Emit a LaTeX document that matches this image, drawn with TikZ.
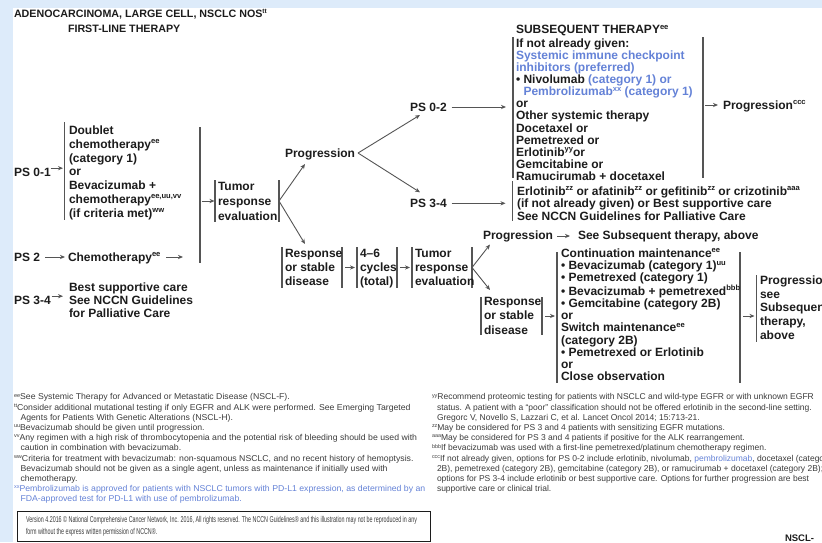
\documentclass[tikz,border=0pt]{standalone}
\usepackage{fontspec}
\setmainfont{Liberation Sans}
\newfontfamily\footf[FakeStretch=0.63]{Liberation Sans}
\newfontfamily\wfoot[FakeStretch=1.025]{Liberation Sans}
\usetikzlibrary{arrows.meta,fit}
\definecolor{bgblue}{RGB}{221,235,250}
\definecolor{ink}{RGB}{28,28,28}
\definecolor{fink}{RGB}{60,60,60}
\definecolor{rulec}{RGB}{85,85,85}
\definecolor{lblue}{RGB}{100,130,215}
\newcommand\sps[1]{\raisebox{4.5pt}{\fontsize{7.6}{7.6}\selectfont #1}}
\newcommand\fsp[1]{\raisebox{2.8pt}{\fontsize{5.4}{5.4}\selectfont #1}}
\newcommand\fl{\rule{0pt}{9pt}}
\newcommand\ffl{\rule{0pt}{6.8pt}}
\newcommand\bl[1]{\textcolor{lblue}{#1}}
\tikzset{
  body/.style={inner sep=0pt, outer sep=0pt, text=ink, font=\fontsize{12}{12}\selectfont\bfseries},
  lbl/.style={body, anchor=base west},
  blk/.style={body, anchor=north west, align=left},
  brk/.style={draw=rulec, line width=1.2pt},
  arr/.style={draw=rulec, line width=0.9pt, -{Stealth[length=5pt,width=4.2pt]}},
  bx/.style={inner sep=0pt, outer sep=0pt},
  fn/.style={anchor=north west, inner sep=0pt, outer sep=0pt, align=left, text=fink, font=\fontsize{8.5}{10.2}\selectfont},
}
\begin{document}
\begin{tikzpicture}[x=1pt,y=-1pt]
\path[use as bounding box] (0,0) rectangle (822,542);
\clip (0,0) rectangle (822,542);
\fill[bgblue] (0,0) rectangle (822,542);
\fill[white] (13,8) rectangle (822,542);

% titles
\node[lbl, font=\fontsize{10.7}{11}\selectfont\bfseries] (title) at (14,17) {ADENOCARCINOMA, LARGE CELL, NSCLC NOS\raisebox{4pt}{\fontsize{6.5}{6.5}\selectfont tt}};
\node[lbl, font=\fontsize{10.7}{11}\selectfont\bfseries] (title2) at (68,32) {FIRST-LINE THERAPY};

% bracket boxes
\node[bx, fit={(65,122)(65,220)}] (db) {};
\node[bx, fit={(200,127)(200,263)}] (join) {};
\node[bx, fit={(215,180)(279,222)}] (tre) {};
\node[bx, fit={(282,247)(342,288)}] (rsd1) {};
\node[bx, fit={(357,247)(397,288)}] (cyc) {};
\node[bx, fit={(412,247)(472,288)}] (tre2) {};
\node[bx, fit={(513,37)(703,178)}] (sub) {};
\node[bx, fit={(513,181)(513,221)}] (erl) {};
\node[bx, fit={(481,297)(542,335)}] (rsd2) {};
\node[bx, fit={(557,252)(740,383)}] (cont) {};
\node[bx, fit={(757,275)(757,342)}] (pfin) {};

\draw[brk] (db.north west) -- (db.south west);
\draw[brk] (join.north) -- (join.south);
\foreach \b in {tre,rsd1,cyc,tre2,sub,rsd2,cont}{
  \draw[brk] (\b.north west) -- (\b.south west);
  \draw[brk] (\b.north east) -- (\b.south east);
}
\draw[brk] (erl.north west) -- (erl.south west);
\draw[brk] (pfin.north west) -- (pfin.south west);

% left column
\node[lbl] (ps01) at (14,176.3) {PS 0-1};
\node[blk, font=\fontsize{12}{13.75}\selectfont\bfseries] (dbt) at (69,125.5) {\fl Doublet\\chemotherapy\sps{ee}\\(category 1)\\or\\Bevacizumab +\\chemotherapy\sps{ee,uu,vv}\\(if criteria met)\sps{ww}};
\node[lbl] (ps2) at (14,261.3) {PS 2};
\node[lbl] (chemo) at (68,261.3) {Chemotherapy\sps{ee}};
\coordinate (chemoend) at (183,257);
\node[lbl] (ps34) at (14,304.3) {PS 3-4};
\node[blk, font=\fontsize{12}{13.3}\selectfont\bfseries] (bsc) at (69,282) {\fl Best supportive care\\See NCCN Guidelines\\for Palliative Care};

\node[blk, font=\fontsize{12}{15}\selectfont\bfseries] (tret) at (218,181) {\fl Tumor\\response\\evaluation};
\node[lbl] (prog1) at (285,157) {Progression};

\node[blk, font=\fontsize{12}{14.3}\selectfont\bfseries] (rsd1t) at (285,248) {\fl Response\\or stable\\disease};
\node[blk, font=\fontsize{12}{14.3}\selectfont\bfseries] (cyct) at (360,248) {\fl 4–6\\cycles\\(total)};
\node[blk, font=\fontsize{12}{14.3}\selectfont\bfseries] (tre2t) at (415,248) {\fl Tumor\\response\\evaluation};

\node[lbl] (ps02) at (410,111) {PS 0-2};
\node[lbl] (ps34b) at (410,207.3) {PS 3-4};

\node[lbl] (subhead) at (516,33.6) {SUBSEQUENT THERAPY\sps{ee}};
\node[blk, font=\fontsize{12}{12.15}\selectfont\bfseries] (subt) at (516,38) {\fl If not already given:\\
\bl{Systemic immune checkpoint}\\
\bl{inhibitors (preferred)}\\
• Nivolumab \bl{(category 1) or}\\
\phantom{• }\bl{Pembrolizumab\sps{xx} (category 1)}\\
or\\
Other systemic therapy\\
Docetaxel or\\
Pemetrexed or\\
Erlotinib\sps{yy}or\\
Gemcitabine or\\
Ramucirumab + docetaxel};
\node[blk, font=\fontsize{12}{12.6}\selectfont\bfseries] (erlt) at (517,186) {\fl Erlotinib\sps{zz} or afatinib\sps{zz} or gefitinib\sps{zz} or crizotinib\sps{aaa}\\(if not already given) or Best supportive care\\See NCCN Guidelines for Palliative Care};
\node[lbl] (progccc) at (723,109) {Progression\sps{ccc}};

\node[lbl] (prog2) at (483,239.5) {Progression};
\node[lbl] (seesub) at (578,239.5) {See Subsequent therapy, above};
\node[blk, font=\fontsize{12}{14.2}\selectfont\bfseries] (rsd2t) at (484,296.7) {\fl Response\\or stable\\disease};
\node[blk, font=\fontsize{12}{12.2}\selectfont\bfseries] (contt) at (561,248.3) {\fl Continuation maintenance\sps{ee}\\
• Bevacizumab (category 1)\sps{uu}\\
• Pemetrexed (category 1)\\
• Bevacizumab + pemetrexed\sps{bbb}\\
• Gemcitabine (category 2B)\\
or\\
Switch maintenance\sps{ee}\\
(category 2B)\\
• Pemetrexed or Erlotinib\\
or\\
Close observation};
\node[blk, font=\fontsize{12}{13.7}\selectfont\bfseries] (pfint) at (760,275.5) {\fl Progression\\see\\Subsequent\\therapy,\\above};

% connectors
\draw[arr, shorten >=1.5pt] (ps01.east) ++(0,-4) coordinate (a1) -- (a1 -| db.west);
\draw[arr] ([xshift=5pt]ps2.east |- chemoend) -- ([xshift=-3pt]chemo.west |- chemoend);
\draw[arr] ([xshift=6pt]chemo.east |- chemoend) -- (chemoend);
\draw[arr, shorten >=1.5pt] (ps34.east) ++(1,-4) coordinate (a3) -- (a3 -| db.west);
\draw[arr, shorten >=0.5pt] (tre.west -| join.east) ++(1,0) -- (tre.west);
\draw[arr] (tre.east) -- ([shift={(20,7)}]prog1.base west);
\draw[arr] (tre.east) -- ([shift={(23,-3)}]rsd1.north west);
\draw[arr] ([shift={(3,-4)}]prog1.base east) -- ([shift={(10,4)}]ps02.base west);
\draw[arr] ([shift={(3,-4)}]prog1.base east) -- ([shift={(10,-15)}]ps34b.base west);
\draw[arr] ([shift={(5,-4)}]ps02.base east) -- ([xshift=-7pt]sub.west |- 0,107);
\draw[arr] ([shift={(5,-4)}]ps34b.base east) -- ([xshift=-7pt]erl.west |- 0,203.3);
\draw[arr] ([xshift=2pt]sub.east |- 0,105) -- ([shift={(-5,-4)}]progccc.base west);
\draw[arr] ([xshift=3pt]rsd1.east) -- ([xshift=-2pt]cyc.west);
\draw[arr] ([xshift=3pt]cyc.east) -- ([xshift=-2pt]tre2.west);
\draw[arr] (tre2.east) -- ([shift={(7,5)}]prog2.base west);
\draw[arr] (tre2.east) -- ([shift={(9,-7)}]rsd2.north west);
\draw[arr] ([shift={(4,-3.5)}]prog2.base east) -- ([shift={(-8,-3.5)}]seesub.base west);
\draw[arr] ([xshift=3pt]rsd2.east) -- ([xshift=-2pt]cont.west |- rsd2.east);
\draw[arr] ([xshift=3pt]cont.east |- rsd2.east) -- ([xshift=-2pt]pfin.west |- rsd2.east);

% footnotes
\node[fn, font=\wfoot\fontsize{8.5}{10.2}\selectfont] (fnl) at (14,393) {\ffl\fsp{ee}See Systemic Therapy for Advanced or Metastatic Disease (NSCL-F).\\
\fsp{tt}Consider additional mutational testing if only EGFR and ALK were performed. See Emerging Targeted\\
\hspace*{6.5pt}Agents for Patients With Genetic Alterations (NSCL-H).\\
\fsp{uu}Bevacizumab should be given until progression.\\
\fsp{vv}Any regimen with a high risk of thrombocytopenia and the potential risk of bleeding should be used with\\
\hspace*{6.5pt}caution in combination with bevacizumab.\\
\fsp{ww}Criteria for treatment with bevacizumab: non-squamous NSCLC, and no recent history of hemoptysis.\\
\hspace*{6.5pt}Bevacizumab should not be given as a single agent, unless as maintenance if initially used with\\
\hspace*{6.5pt}chemotherapy.\\
\bl{\fsp{xx}Pembrolizumab is approved for patients with NSCLC tumors with PD-L1 expression, as determined by an}\\
\bl{\hspace*{6.5pt}FDA-approved test for PD-L1 with use of pembrolizumab.}};
\node[fn] (fnr) at (432,393) {\ffl\fsp{yy}Recommend proteomic testing for patients with NSCLC and wild-type EGFR or with unknown EGFR\\
\hspace*{5pt}status. A patient with a “poor” classification should not be offered erlotinib in the second-line setting.\\
\hspace*{5pt}Gregorc V, Novello S, Lazzari C, et al. Lancet Oncol 2014; 15:713-21.\\
\fsp{zz}May be considered for PS 3 and 4 patients with sensitizing EGFR mutations.\\
\fsp{aaa}May be considered for PS 3 and 4 patients if positive for the ALK rearrangement.\\
\fsp{bbb}If bevacizumab was used with a first-line pemetrexed/platinum chemotherapy regimen.\\
\fsp{ccc}If not already given, options for PS 0-2 include erlotinib, nivolumab, \bl{pembrolizumab}, docetaxel (category\\
\hspace*{5pt}2B), pemetrexed (category 2B), gemcitabine (category 2B), or ramucirumab + docetaxel (category 2B);\\
\hspace*{5pt}options for PS 3-4 include erlotinib or best supportive care. Options for further progression are best\\
\hspace*{5pt}supportive care or clinical trial.};

% footer
\node[bx, fit={(17,511)(430,541)}, draw=ink, line width=0.7pt] (foot) {};
\node[fn, font=\footf\fontsize{8.5}{11.5}\selectfont] (foott) at (26,516) {\ffl Version 4.2016 © National Comprehensive Cancer Network, Inc. 2016, All rights reserved. The NCCN Guidelines® and this illustration may not be reproduced in any\\form without the express written permission of NCCN®.};
\node[lbl, font=\fontsize{9.5}{10}\selectfont\bfseries] (page) at (785,541) {NSCL-};
\end{tikzpicture}
\end{document}
